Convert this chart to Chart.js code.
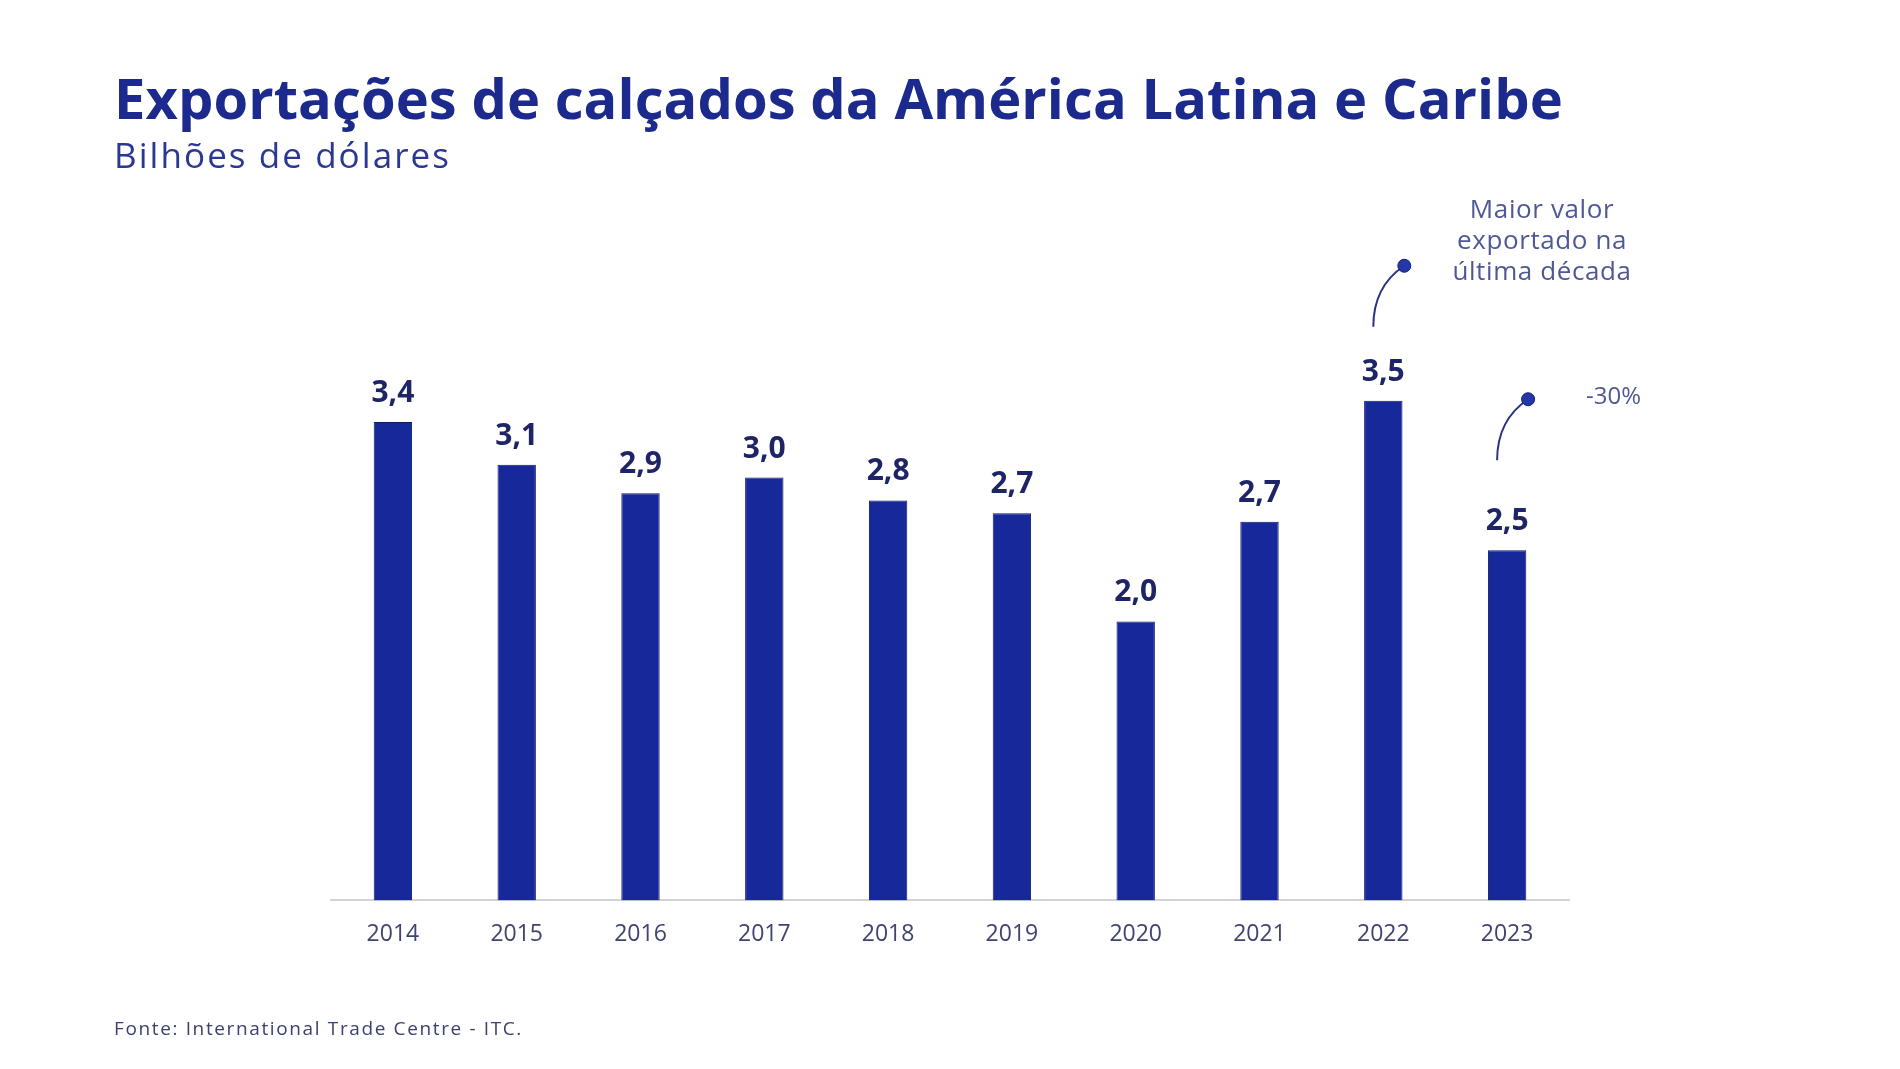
<!DOCTYPE html>
<html>
<head>
<meta charset="utf-8">
<script src="https://cdn.jsdelivr.net/npm/chart.js@4.4.1/dist/chart.umd.min.js"></script>
<style>
  html, body { margin: 0; padding: 0; background: #fff; }
  #wrap { position: relative; width: 1900px; height: 1069px; overflow: hidden; font-family: 'Open Sans', sans-serif; }
  #cw { position: absolute; left: 0; top: 0; width: 1900px; height: 1069px; }
  .t { position: absolute; white-space: nowrap; line-height: 1; }
  #title { left: 114px; top: 69px; font-size: 56px; font-weight: 700; color: #1b2a8c; }
  #sub { left: 114px; top: 137px; font-size: 35px; color: #2a3893; }
  #src { left: 114px; top: 1019px; font-size: 19px; color: #3b4170; }
  #note { left: 1432px; width: 220px; top: 193px; text-align: center; font-size: 26px; line-height: 31px; letter-spacing: 0.6px; color: #4f5894; white-space: normal; }
  #pct { left: 1586px; top: 383px; font-size: 24px; color: #4f5894; }
</style>
</head>
<body>
<div id="wrap">
  <div id="cw"><canvas id="exportChart"></canvas></div>
  <div class="t" id="title">Exportações de calçados da América Latina e Caribe</div>
  <div class="t" id="sub">Bilhões de dólares</div>
  <div class="t" id="note">Maior valor<br>exportado na<br>última década</div>
  <div class="t" id="pct">-30%</div>
  <div class="t" id="src">Fonte: International Trade Centre - ITC.</div>
</div>
<script>
const years = ['2014', '2015', '2016', '2017', '2018', '2019', '2020', '2021', '2022', '2023'];
const exportValues = [3.36, 3.06, 2.86, 2.97, 2.81, 2.72, 1.96, 2.66, 3.51, 2.46]; // bilhões US$
const yMin = 0;
const yMax = 4;

// stretch letter spacing so the text box matches the reference width
function fitWidth(id, w) {
  const el = document.getElementById(id);
  const r = el.getBoundingClientRect().width;
  const n = el.textContent.length;
  el.style.letterSpacing = ((w - r) / n) + 'px';
}
fitWidth('title', 1449);
fitWidth('sub', 337);
fitWidth('src', 409);

// value labels on top of the bars
const valueLabels = {
  id: 'valueLabels',
  afterDatasetsDraw(chart) {
    const ctx = chart.ctx;
    const meta = chart.getDatasetMeta(0);
    ctx.save();
    ctx.font = "700 30px 'Open Sans'";
    ctx.fillStyle = '#1e2566';
    ctx.textAlign = 'center';
    ctx.textBaseline = 'alphabetic';
    meta.data.forEach((bar, i) => {
      const txt = exportValues[i].toFixed(1).replace('.', ',');
      ctx.fillText(txt, bar.x, bar.y - 20);
    });
    ctx.restore();
  }
};

// curved pointers with a dot (2022 and 2023)
const pointers = [
  { index: 8, dy: -74 },
  { index: 9, dy: -90 }
];
const pointerArcs = {
  id: 'pointerArcs',
  afterDatasetsDraw(chart) {
    const ctx = chart.ctx;
    const meta = chart.getDatasetMeta(0);
    ctx.save();
    pointers.forEach(p => {
      const bar = meta.data[p.index];
      const x0 = bar.x - 10, y0 = bar.y + p.dy;
      const x1 = x0 + 31, y1 = y0 - 61;
      ctx.beginPath();
      ctx.moveTo(x0, y0);
      ctx.bezierCurveTo(x0, y0 - 30, x1 - 18, y1 + 12, x1, y1);
      ctx.strokeStyle = '#2a3380';
      ctx.lineWidth = 2;
      ctx.stroke();
      ctx.beginPath();
      ctx.arc(x1, y1, 6.5, 0, Math.PI * 2);
      ctx.fillStyle = '#2436a8';
      ctx.fill();
      ctx.strokeStyle = '#17206e';
      ctx.lineWidth = 1;
      ctx.stroke();
    });
    ctx.restore();
  }
};

const ctx = document.getElementById('exportChart').getContext('2d');
new Chart(ctx, {
  type: 'bar',
  data: {
    labels: years,
    datasets: [{
      label: 'Exportações',
      data: exportValues,
      backgroundColor: '#17289a',
      borderColor: '#0f1a6b',
      borderWidth: 1,
      categoryPercentage: 1,
      barPercentage: 0.31
    }]
  },
  options: {
    responsive: true,
    maintainAspectRatio: false,
    animation: false,
    layout: {
      padding: { left: 331, right: 331, top: 331, bottom: 101 }
    },
    scales: {
      y: {
        display: false,
        min: yMin,
        max: yMax
      },
      x: {
        grid: { display: false, drawTicks: false },
        border: { display: true, color: '#d3d3da', width: 2 },
        ticks: {
          padding: 20,
          color: '#3f4470',
          font: { family: "'Open Sans'", size: 23 }
        }
      }
    },
    plugins: {
      legend: { display: false },
      tooltip: { enabled: false }
    }
  },
  plugins: [valueLabels, pointerArcs]
});
</script>
</body>
</html>
